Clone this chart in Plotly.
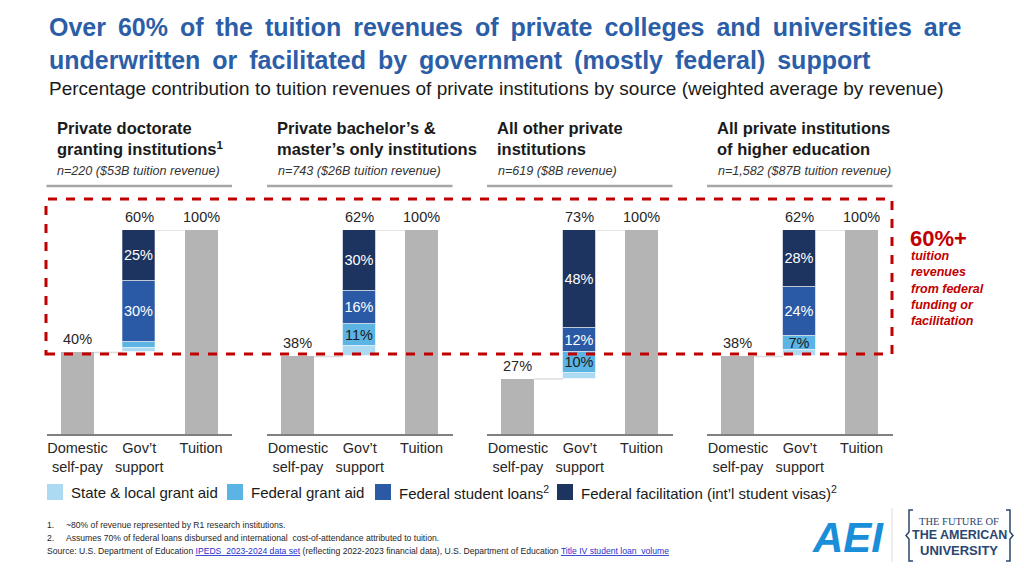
import plotly.graph_objects as go

W, H = 1024, 576

# ---------------- data ----------------
panel_titles = [
    "Private doctorate<br>granting institutions<sup>1</sup>",
    "Private bachelor’s &<br>master’s only institutions",
    "All other private<br>institutions",
    "All private institutions<br>of higher education",
]
panel_notes = [
    "n=220 ($53B tuition revenue)",
    "n=743 ($26B tuition revenue)",
    "n=619 ($8B revenue)",
    "n=1,582 ($87B tuition revenue)",
]
categories = ["Domestic<br>self-pay", "Gov’t<br>support", "Tuition"]
self_pay = [40, 38, 27, 38]
govt_total = [60, 62, 73, 62]
tuition_total = [100, 100, 100, 100]
state_local = [2, 5, 3, 3]
federal_grant = [3, 11, 10, 7]
federal_loans = [30, 16, 12, 24]
federal_facil = [25, 30, 48, 28]

series_names = ["State & local grant aid", "Federal grant aid",
                "Federal student loans<sup>2</sup>",
                "Federal facilitation (int’l student visas)<sup>2</sup>"]
series_values = [state_local, federal_grant, federal_loans, federal_facil]
series_labeled = [False, True, True, True]
series_colors = ["#acdaf3", "#5cb4e4", "#2a5aa6", "#1c345f"]
series_textcolors = ["#1a1a1a", "#1a1a1a", "#ffffff", "#ffffff"]
GRAY = "#b4b4b4"
FONT = "Liberation Sans, Arial, sans-serif"

# ---------------- layout geometry (pixels) ----------------
panel_left = [46.5, 267, 487, 707]
panel_width = 185.5
base_px, top_px = 434, 230
bw = 0.535

def px(x):
    return x / W

def py(y):
    return 1 - y / H

fig = go.Figure()
annotations = []
shapes = []

for i in range(4):
    xa = "x" if i == 0 else f"x{i+1}"
    ya = "y" if i == 0 else f"y{i+1}"
    # gray bars
    fig.add_trace(go.Bar(x=[0, 2], y=[self_pay[i], tuition_total[i]], width=bw,
                         marker=dict(color=GRAY, line=dict(width=0)),
                         xaxis=xa, yaxis=ya, showlegend=False, hoverinfo="skip"))
    # stacked gov't segments
    base = self_pay[i]
    for s in range(4):
        v = series_values[s][i]
        show = series_labeled[s] and v >= 5
        fig.add_trace(go.Bar(
            x=[1], y=[v], base=[base], width=bw,
            marker=dict(color=series_colors[s], line=dict(width=1, color="rgba(255,255,255,0.55)")),
            text=[f"{v}%"] if show else None,
            textposition="inside" if show else "none",
            insidetextanchor="middle", textangle=0, constraintext="none",
            textfont=dict(family=FONT, size=14.5, color=series_textcolors[s]),
            xaxis=xa, yaxis=ya, showlegend=False, hoverinfo="skip"))
        base += v
    # connectors
    fig.add_trace(go.Scatter(x=[bw / 2, 1 - bw / 2], y=[self_pay[i], self_pay[i]], mode="lines",
                             line=dict(color="#dcdcdc", width=1.5), xaxis=xa, yaxis=ya,
                             showlegend=False, hoverinfo="skip"))
    fig.add_trace(go.Scatter(x=[1 + bw / 2, 2 - bw / 2],
                             y=[self_pay[i] + govt_total[i], tuition_total[i]], mode="lines",
                             line=dict(color="#dcdcdc", width=1.5), xaxis=xa, yaxis=ya,
                             showlegend=False, hoverinfo="skip"))
    # totals
    for cx, cy, lab in [(0, self_pay[i], f"{self_pay[i]}%"),
                        (1, self_pay[i] + govt_total[i], f"{govt_total[i]}%"),
                        (2, tuition_total[i], f"{tuition_total[i]}%")]:
        annotations.append(dict(x=cx, y=cy, xref=xa, yref=ya, text=lab, showarrow=False,
                                yanchor="bottom", yshift=3,
                                font=dict(family=FONT, size=14.5, color="#262626")))
    # axes
    dom = [px(panel_left[i]), px(panel_left[i] + panel_width)]
    xkey = "xaxis" if i == 0 else f"xaxis{i+1}"
    ykey = "yaxis" if i == 0 else f"yaxis{i+1}"
    fig.update_layout(**{
        xkey: dict(domain=dom, range=[-0.5, 2.5], anchor=ya, tickvals=[0, 1, 2],
                   ticktext=categories, showline=True, linecolor="#808080", linewidth=1.5,
                   showgrid=False, zeroline=False, ticks="",
                   tickfont=dict(family=FONT, size=14.5, color="#262626")),
        ykey: dict(domain=[py(base_px), py(top_px)], range=[0, 100], anchor=xa,
                   visible=False, showgrid=False),
    })
    # panel header
    annotations.append(dict(x=px(panel_left[i] + 8), y=py(138), xref="paper", yref="paper",
                            text=f"<b>{panel_titles[i]}</b>", showarrow=False,
                            xanchor="left", yanchor="middle", align="left",
                            font=dict(family=FONT, size=16.5, color="#1a1a1a")))
    annotations.append(dict(x=px(panel_left[i] + 8.5), y=py(171), xref="paper", yref="paper",
                            text=f"<i>{panel_notes[i]}</i>", showarrow=False,
                            xanchor="left", yanchor="middle",
                            font=dict(family=FONT, size=12.6, color="#333333")))
    shapes.append(dict(type="line", xref="paper", yref="paper",
                       x0=px(panel_left[i]), x1=px(panel_left[i] + panel_width),
                       y0=py(186), y1=py(186), line=dict(color="#a6a6a6", width=2.5)))

# red dashed box
shapes.append(dict(type="rect", xref="paper", yref="paper", x0=px(46), x1=px(892),
                   y0=py(354), y1=py(199), line=dict(color="#c00000", width=3, dash="dash"),
                   layer="above"))

# titles
t1 = "Over 60% of the tuition revenues of private colleges and universities are"
t2 = "underwritten or facilitated by government (mostly federal) support"
sp = " \u2009"
annotations.append(dict(x=px(47), y=py(44), xref="paper", yref="paper", showarrow=False,
                        xanchor="left", yanchor="middle", align="left",
                        text=f"<b>{t1.replace(' ', sp)}<br>{t2.replace(' ', sp)}</b>",
                        font=dict(family=FONT, size=25, color="#2c5ea8")))
annotations.append(dict(x=px(47), y=py(88), xref="paper", yref="paper", showarrow=False,
                        xanchor="left", yanchor="middle",
                        text="Percentage contribution to tuition revenues of private institutions by source (weighted average by revenue)",
                        font=dict(family=FONT, size=19, color="#1a1a1a")))

# right callout
annotations.append(dict(x=px(908), y=py(238), xref="paper", yref="paper", showarrow=False,
                        xanchor="left", yanchor="middle", text="<b>60%+</b>",
                        font=dict(family=FONT, size=22, color="#c00000")))
annotations.append(dict(x=px(909), y=py(288), xref="paper", yref="paper", showarrow=False,
                        xanchor="left", yanchor="middle", align="left",
                        text="<b><i>tuition<br>revenues<br>from federal<br>funding or<br>facilitation</i></b>",
                        font=dict(family=FONT, size=12.5, color="#c00000")))

# legend (manual)
leg_x = [47, 227, 375, 557]
for s in range(4):
    shapes.append(dict(type="rect", xref="paper", yref="paper", x0=px(leg_x[s]), x1=px(leg_x[s] + 16),
                       y0=py(500), y1=py(484), fillcolor=series_colors[s], line=dict(width=0)))
    annotations.append(dict(x=px(leg_x[s] + 22), y=py(492), xref="paper", yref="paper",
                            showarrow=False, xanchor="left", yanchor="middle",
                            text=series_names[s],
                            font=dict(family=FONT, size=15, color="#1a1a1a")))

# footnotes
FN = "Liberation Sans, Arial, sans-serif"
for yy, num, txt in [(525, "1.", "~80% of revenue represented by R1 research institutions."),
                     (538, "2.", "Assumes 70% of federal loans disbursed and international  cost-of-attendance attributed to tuition.")]:
    annotations.append(dict(x=px(45), y=py(yy), xref="paper", yref="paper", showarrow=False,
                            xanchor="left", yanchor="middle", text=num,
                            font=dict(family=FN, size=8.6, color="#262626")))
    annotations.append(dict(x=px(64), y=py(yy), xref="paper", yref="paper", showarrow=False,
                            xanchor="left", yanchor="middle", text=txt,
                            font=dict(family=FN, size=8.6, color="#262626")))
annotations.append(dict(x=px(45), y=py(551), xref="paper", yref="paper", showarrow=False,
                        xanchor="left", yanchor="middle",
                        text="Source: U.S. Department of Education <span style='color:#1f2fd0'><u>IPEDS  2023-2024 data set</u></span> "
                             "(reflecting 2022-2023 financial data), U.S. Department of Education "
                             "<span style='color:#1f2fd0'><u>Title IV student loan  volume</u></span>",
                        font=dict(family=FN, size=8.6, color="#262626")))

# logos (approximate, as text)
annotations.append(dict(x=px(848), y=py(537), xref="paper", yref="paper", showarrow=False,
                        xanchor="center", yanchor="middle", text="<b><i>AEI</i></b>",
                        font=dict(family="Liberation Sans, Arial", size=42, color="#1a8ed8")))
shapes.append(dict(type="line", xref="paper", yref="paper", x0=px(892), x1=px(892),
                   y0=py(508), y1=py(562), line=dict(color="#dddddd", width=1)))
NAVY = "#2b4670"
annotations.append(dict(x=px(959), y=py(521), xref="paper", yref="paper", showarrow=False,
                        xanchor="center", yanchor="middle", text="THE FUTURE OF",
                        font=dict(family="Liberation Serif, DejaVu Serif", size=10.5, color=NAVY)))
annotations.append(dict(x=px(959), y=py(535), xref="paper", yref="paper", showarrow=False,
                        xanchor="center", yanchor="middle", text="<b>THE AMERICAN</b>",
                        font=dict(family="Liberation Sans, Arial", size=12.5, color=NAVY)))
annotations.append(dict(x=px(959), y=py(550), xref="paper", yref="paper", showarrow=False,
                        xanchor="center", yanchor="middle", text="<b>UNIVERSITY</b>",
                        font=dict(family="Liberation Sans, Arial", size=13, color=NAVY)))
# brackets
def bracket(xb, d):
    pts = [(xb + 4 * d, 510), (xb, 510), (xb, 532), (xb - 3 * d, 535.5),
           (xb, 539), (xb, 561), (xb + 4 * d, 561)]
    return "M " + " L ".join(f"{px(a)},{py(b)}" for a, b in pts)

for xb, d in [(909, 1), (1010, -1)]:
    shapes.append(dict(type="path", xref="paper", yref="paper", path=bracket(xb, d),
                       line=dict(color=NAVY, width=1.5)))

fig.update_layout(width=W, height=H, margin=dict(l=0, r=0, t=0, b=0),
                  paper_bgcolor="white", plot_bgcolor="rgba(0,0,0,0)",
                  barmode="overlay", showlegend=False, bargap=0,
                  annotations=annotations, shapes=shapes,
                  font=dict(family=FONT))

fig.write_html("out.html", config={"displayModeBar": False},
               post_script="document.body.style.margin='0';document.body.style.overflow='hidden';")
